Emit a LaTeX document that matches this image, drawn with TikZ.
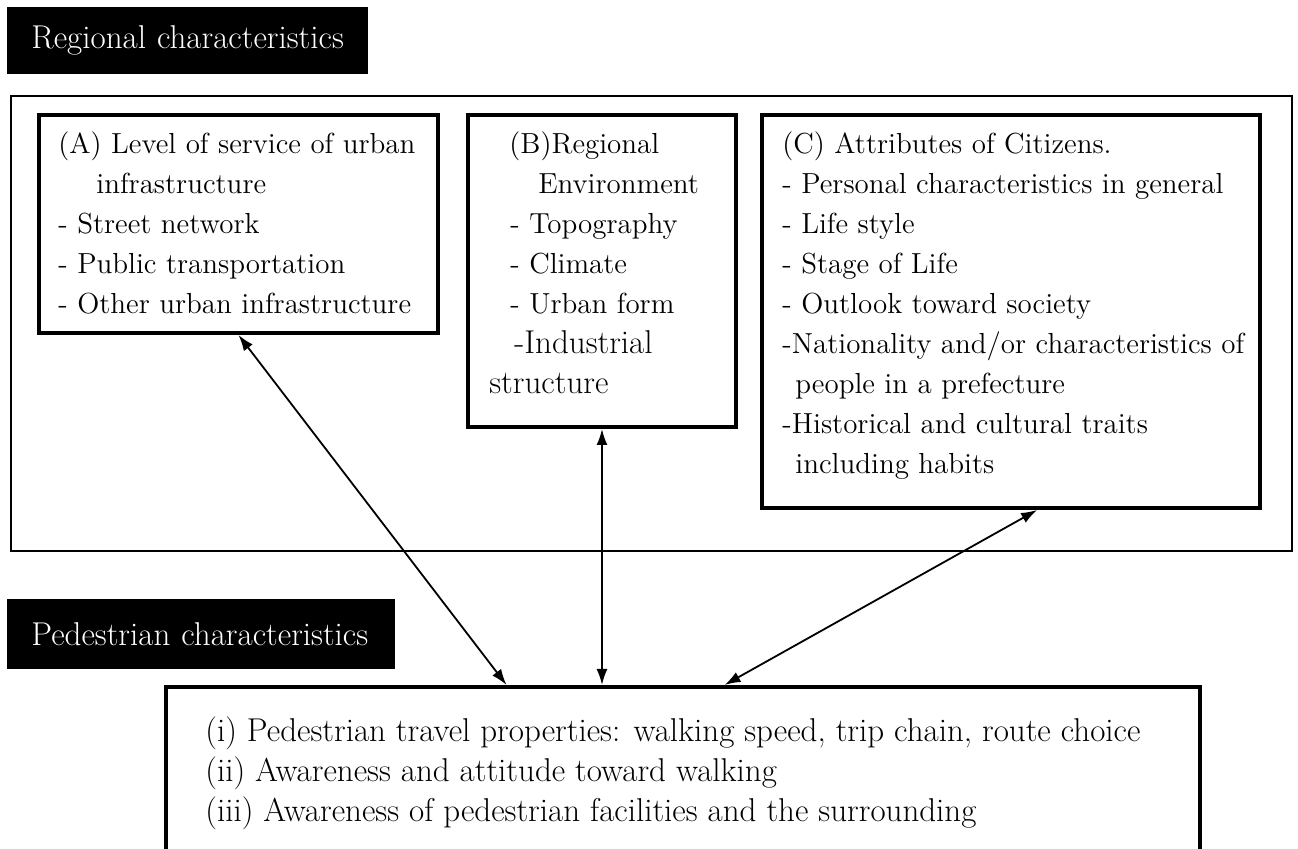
\documentclass[tikz,border=0pt]{standalone}
\usepackage{tikz}
\usetikzlibrary{arrows.meta,positioning,calc}

\begin{document}
\begin{tikzpicture}[x=0.5pt,y=-0.5pt,
   heading/.style={fill=black,text=white,anchor=north west,align=left,
                   font=\fontsize{16.5}{18}\selectfont,inner xsep=12pt,inner ysep=0pt},
   frame/.style={draw,line width=2pt,inner sep=0pt,anchor=north west},
   listtext/.style={inner sep=0pt,align=left,font=\fontsize{14.5}{20}\selectfont},
   link/.style={{Latex[length=8pt,width=5.5pt]}-{Latex[length=8pt,width=5.5pt]},line width=0.9pt}]
  \useasboundingbox (0,0) rectangle (1298,849);
  \node[heading,text width=156.5pt,minimum height=33.5pt] (reg) at (7,7) {Regional characteristics};
  \node[draw,line width=1pt,inner sep=0pt,anchor=north west,
        minimum width=640.5pt,minimum height=227.5pt] (region) at (10,95) {};
  \node[frame,minimum width=199.5pt,minimum height=109pt] (boxA) at (37,113) {};
  \node[frame,minimum width=134pt,minimum height=156pt,
        below right=0pt and 13pt of boxA.north east] (boxB) {};
  \node[frame,minimum width=249pt,minimum height=196.5pt,
        below right=0pt and 11pt of boxB.north east] (boxC) {};
  \node[listtext,below right=9pt and 10.5pt of boxA.north west] (txtA)
       {(A) Level of service of urban\\
        \hspace*{19pt}infrastructure\\
        - Street network\\
        - Public transportation\\
        - Other urban infrastructure};
  \node[listtext,below right=9pt and 11.5pt of boxB.north west] (txtB)
       {\hspace*{10pt}(B)Regional\\
        \hspace*{24.5pt}Environment\\
        \hspace*{10.5pt}- Topography\\
        \hspace*{10.5pt}- Climate\\
        \hspace*{10.5pt}- Urban form\\
        \hspace*{12.5pt}{\fontsize{16.5}{20}\selectfont -Industrial}\\
        {\fontsize{16.5}{20}\selectfont structure}};
  \node[listtext,below right=9pt and 11pt of boxC.north west] (txtC)
       {(C) Attributes of Citizens.\\
        - Personal characteristics in general\\
        - Life style\\
        - Stage of Life\\
        - Outlook toward society\\
        -Nationality and/or characteristics of\\
        \hspace*{6.5pt}people in a prefecture\\
        -Historical and cultural traits\\
        \hspace*{6.5pt}including habits};
  \node[heading,text width=170pt,minimum height=35pt] (ped) at (7,599) {Pedestrian characteristics};
  \node[frame,minimum width=517pt,minimum height=110pt] (walk) at (164,685) {};
  \node[listtext,font=\fontsize{16.5}{20}\selectfont,
        below right=15.5pt and 20.5pt of walk.north west] (txtW)
       {(i) Pedestrian travel properties: walking speed, trip chain, route choice\\
        (ii) Awareness and attitude toward walking\\
        (iii) Awareness of pedestrian facilities and the surrounding};
  \draw[link] (boxA.south) -- ($(walk.north west)!0.33!(walk.north east)$);
  \draw[link] (boxB.south) -- (boxB.south |- walk.north);
  \draw[link] ($(boxC.south west)!0.552!(boxC.south east)$)
       -- ($(walk.north west)!0.54!(walk.north east)$);
\end{tikzpicture}
\end{document}
